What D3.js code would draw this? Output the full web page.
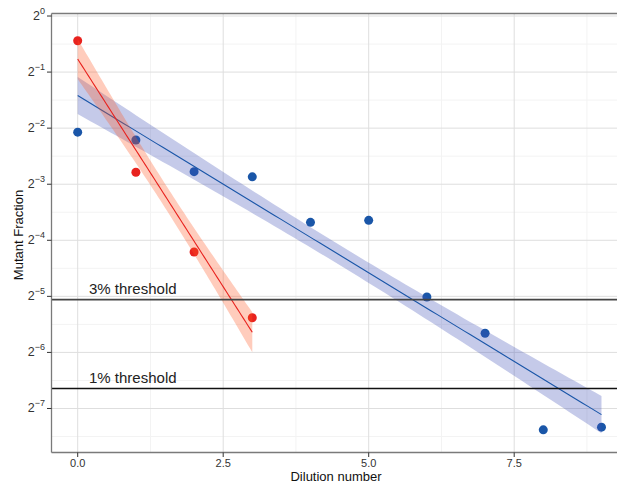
<!DOCTYPE html>
<html>
<head>
<meta charset="utf-8">
<script src="https://cdn.jsdelivr.net/npm/d3@7"></script>
<style>
  body { margin: 0; background: #fff; }
  svg { display: block; font-family: "Liberation Sans", Arial, sans-serif; }
</style>
</head>
<body>
<script>
// dilution numbers for each sample group
const dilRed = [0, 1, 2, 3];
const dilBlue = [0, 1, 2, 3, 4, 5, 6, 7, 8, 9];

// mutant fraction
const fracRed = [0.737, 0.145, 0.0541, 0.0240];
const fracBlue = [0.238, 0.216, 0.146, 0.137, 0.078, 0.080, 0.031, 0.0198, 0.0060, 0.0062];

// thresholds
const thresholds = [0.03, 0.01];
const thresholdLabels = ["3% threshold", "1% threshold"];

// axes
const xTicks = [0, 2.5, 5, 7.5];
const xMinor = [1.25, 3.75, 6.25, 8.75];
const yExp = [0, -1, -2, -3, -4, -5, -6, -7];
const yMinorExp = [-0.5, -1.5, -2.5, -3.5, -4.5, -5.5, -6.5, -7.5];

const w = 617, h = 484;
const svg = d3.select("body").append("svg")
  .attr("width", w).attr("height", h)
  .attr("viewBox", [0, 0, w, h]);

// panel edges
const pLeft = 51.5, pTop = 13.5, pBottom = 452.5;

const x = d3.scaleLinear().domain([-0.45, 9.45]).range([pLeft, pLeft + 9.9 * 58.2]);
const y = d3.scaleLog().base(2).domain([Math.pow(2, -7.785), Math.pow(2, 0.045)]).range([pBottom, pTop]);
const pRight = x(9.45);

// gridlines
const grid = svg.append("g");
grid.selectAll(".ym").data(yMinorExp).join("line")
  .attr("x1", pLeft).attr("x2", pRight)
  .attr("y1", d => y(Math.pow(2, d))).attr("y2", d => y(Math.pow(2, d)))
  .attr("stroke", "#f3f3f3").attr("stroke-width", 1);
grid.selectAll(".xm").data(xMinor).join("line")
  .attr("y1", pTop).attr("y2", pBottom)
  .attr("x1", d => x(d)).attr("x2", d => x(d))
  .attr("stroke", "#f3f3f3").attr("stroke-width", 1);
grid.selectAll(".yM").data(yExp).join("line")
  .attr("x1", pLeft).attr("x2", pRight)
  .attr("y1", d => y(Math.pow(2, d))).attr("y2", d => y(Math.pow(2, d)))
  .attr("stroke", "#dedede").attr("stroke-width", 1);
grid.selectAll(".xM").data(xTicks).join("line")
  .attr("y1", pTop).attr("y2", pBottom)
  .attr("x1", d => x(d)).attr("x2", d => x(d))
  .attr("stroke", "#dedede").attr("stroke-width", 1);

// linear fit on log2 scale, band = fit +/- standard error
function fit(xs, fs) {
  const ys = fs.map(v => Math.log2(v));
  const n = xs.length;
  const mx = d3.mean(xs), my = d3.mean(ys);
  const sxx = d3.sum(xs, v => (v - mx) ** 2);
  const sxy = d3.sum(xs, (v, i) => (v - mx) * (ys[i] - my));
  const b = sxy / sxx, a = my - b * mx;
  const sse = d3.sum(xs, (v, i) => (ys[i] - a - b * v) ** 2);
  const s = Math.sqrt(sse / (n - 2));
  const lo = d3.min(xs), hi = d3.max(xs);
  return d3.range(0, 81).map(k => {
    const xv = lo + (hi - lo) * k / 80;
    const yv = a + b * xv;
    const se = s * Math.sqrt(1 / n + (xv - mx) ** 2 / sxx);
    return {x: xv, y: yv, lo: yv - se, hi: yv + se};
  });
}

const groups = [
  {xs: dilBlue, fs: fracBlue, col: "#1a56a8", fill: "#3f51b5"},
  {xs: dilRed, fs: fracRed, col: "#e8221e", fill: "#ff5722"}
];

// points
groups.forEach(g => {
  svg.append("g").selectAll("circle").data(g.xs).join("circle")
    .attr("cx", d => x(d))
    .attr("cy", (d, i) => y(g.fs[i]))
    .attr("r", 4.5)
    .attr("fill", g.col);
});

// smooth: ribbon then line
const area = d3.area().x(d => x(d.x))
  .y0(d => y(Math.pow(2, d.lo))).y1(d => y(Math.pow(2, d.hi)));
const line = d3.line().x(d => x(d.x)).y(d => y(Math.pow(2, d.y)));
groups.forEach(g => {
  const f = fit(g.xs, g.fs);
  svg.append("path").datum(f).attr("d", area)
    .attr("fill", g.fill).attr("fill-opacity", 0.3);
  svg.append("path").datum(f).attr("d", line)
    .attr("fill", "none").attr("stroke", g.col).attr("stroke-width", 1.1);
});

// threshold lines and labels
svg.selectAll(".thr").data(thresholds).join("line")
  .attr("x1", pLeft).attr("x2", pRight)
  .attr("y1", d => y(d)).attr("y2", d => y(d))
  .attr("stroke", (d, i) => i === 0 ? "#444" : "#111")
  .attr("stroke-width", (d, i) => i === 0 ? 1.6 : 1.3);
svg.selectAll(".thrl").data(thresholds).join("text")
  .attr("x", 89).attr("y", d => y(d) - 6)
  .attr("font-size", 15).attr("fill", "#222")
  .text((d, i) => thresholdLabels[i]);

// panel border lines (top, left, bottom)
svg.append("line").attr("x1", pLeft).attr("x2", pRight).attr("y1", pTop).attr("y2", pTop)
  .attr("stroke", "#7a7a7a").attr("stroke-width", 1.3);
svg.append("line").attr("x1", pLeft).attr("x2", pLeft).attr("y1", pTop).attr("y2", pBottom)
  .attr("stroke", "#7a7a7a").attr("stroke-width", 1.3);
svg.append("line").attr("x1", pLeft).attr("x2", pRight).attr("y1", pBottom).attr("y2", pBottom)
  .attr("stroke", "#7a7a7a").attr("stroke-width", 1.3);

// y axis ticks and labels
const yAx = svg.append("g");
yAx.selectAll("line").data(yExp).join("line")
  .attr("x1", pLeft - 4.5).attr("x2", pLeft)
  .attr("y1", d => y(Math.pow(2, d))).attr("y2", d => y(Math.pow(2, d)))
  .attr("stroke", "#333").attr("stroke-width", 1);
const yl = yAx.selectAll("text").data(yExp).join("text")
  .attr("x", 45).attr("y", d => y(Math.pow(2, d)) + 4)
  .attr("text-anchor", "end").attr("fill", "#333").attr("font-size", 12.5);
yl.append("tspan").text("2");
yl.append("tspan").attr("dy", -6).attr("font-size", 9)
  .text(d => d === 0 ? "0" : "\u2212" + Math.abs(d));

// x axis ticks and labels
const xAx = svg.append("g");
xAx.selectAll("line").data(xTicks).join("line")
  .attr("x1", d => x(d)).attr("x2", d => x(d))
  .attr("y1", pBottom).attr("y2", pBottom + 4.5)
  .attr("stroke", "#333").attr("stroke-width", 1);
xAx.selectAll("text").data(xTicks).join("text")
  .attr("x", d => x(d)).attr("y", 467)
  .attr("text-anchor", "middle").attr("fill", "#333").attr("font-size", 11)
  .text(d => d3.format(".1f")(d));

// axis titles
svg.append("text").attr("x", 336).attr("y", 480.5)
  .attr("text-anchor", "middle").attr("font-size", 13).attr("fill", "#111")
  .text("Dilution number");
svg.append("text")
  .attr("transform", "translate(23,235) rotate(-90)")
  .attr("text-anchor", "middle").attr("font-size", 13).attr("fill", "#111")
  .text("Mutant Fraction");
</script>
</body>
</html>
